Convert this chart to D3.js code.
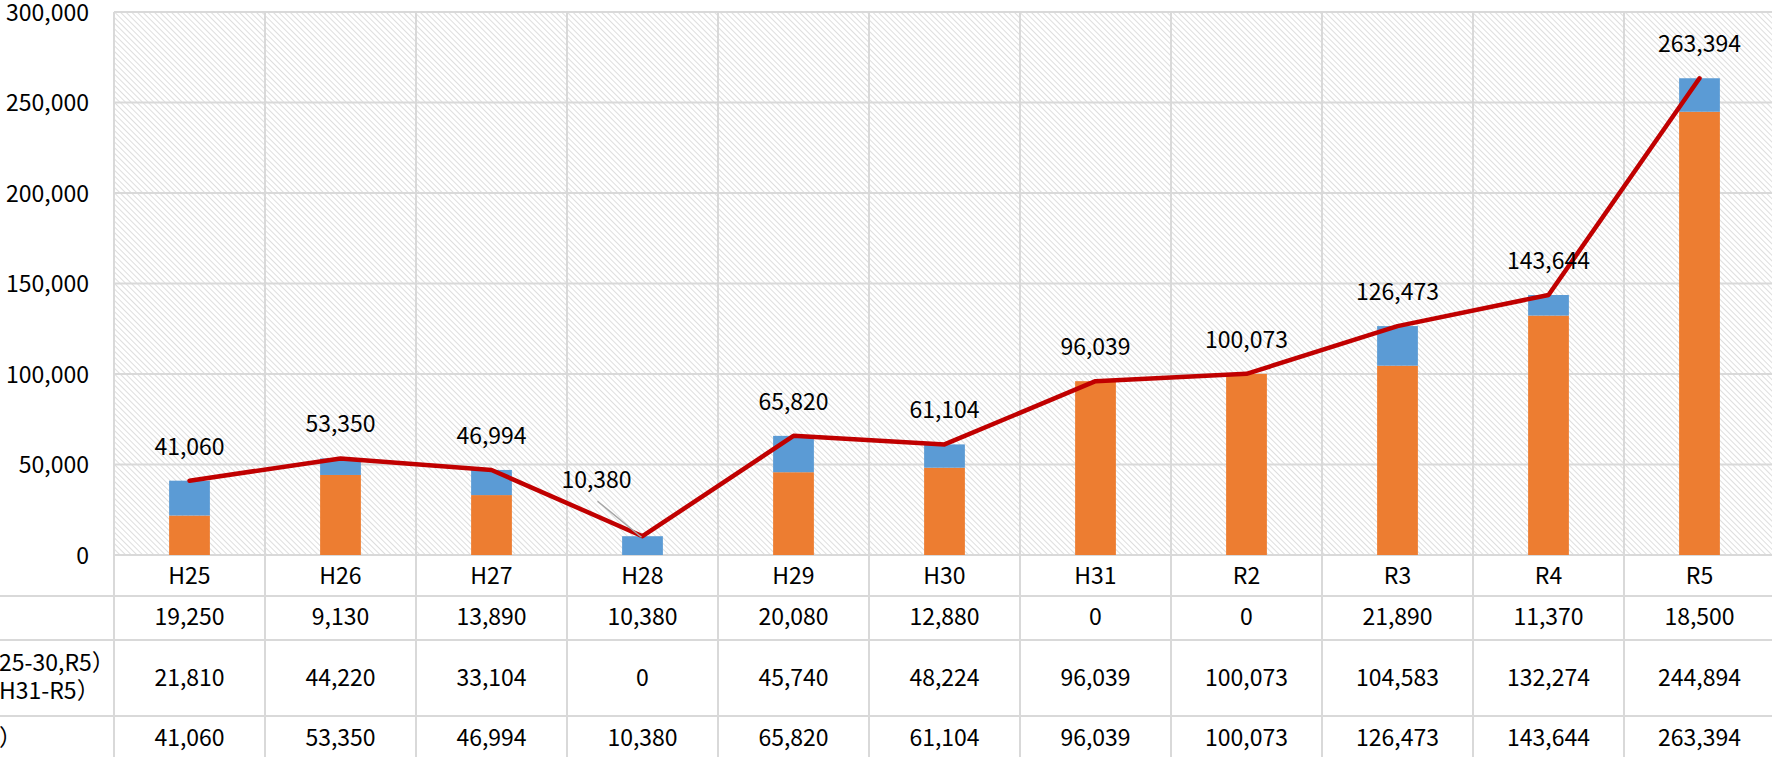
<!DOCTYPE html>
<html>
<head>
<meta charset="utf-8">
<script src="https://cdn.jsdelivr.net/npm/d3@7"></script>
<style>
  body { margin: 0; background: #fff; overflow: hidden; }
  text { font-family: "Noto Sans CJK JP", "Noto Sans", sans-serif; fill: #000; }
</style>
</head>
<body>
<script>
// chart values
const categories = ["H25", "H26", "H27", "H28", "H29", "H30", "H31", "R2", "R3", "R4", "R5"];
const blueValues = [19250, 9130, 13890, 10380, 20080, 12880, 0, 0, 21890, 11370, 18500];
const orangeValues = [21810, 44220, 33104, 0, 45740, 48224, 96039, 100073, 104583, 132274, 244894];
const totalValues = [41060, 53350, 46994, 10380, 65820, 61104, 96039, 100073, 126473, 143644, 263394];
const yTicks = [0, 50000, 100000, 150000, 200000, 250000, 300000];
// visible (clipped) row labels of the data table
const rowLabels = [[""], ["25-30,R5）", "H31-R5）"], ["）"]];

const width = 1772, height = 757;
const plotLeft = 114, plotRight = 1775, plotTop = 12, base = 555;
const rowLines = [555, 596, 640, 716, 800];
const fontSize = 23;

const svg = d3.select("body").append("svg")
    .attr("width", width)
    .attr("height", height);

// hatch pattern of the plot area
const defs = svg.append("defs");
const pat = defs.append("pattern")
    .attr("id", "hatch")
    .attr("patternUnits", "userSpaceOnUse")
    .attr("width", 4)
    .attr("height", 4)
    .attr("patternTransform", "rotate(-45)");
pat.append("rect").attr("width", 4).attr("height", 4).attr("fill", "#fff");
pat.append("line")
    .attr("x1", 0).attr("y1", 0).attr("x2", 0).attr("y2", 4)
    .attr("stroke", "#d6d6d6")
    .attr("stroke-width", 1.6);

const x = d3.scaleBand()
    .domain(categories)
    .range([plotLeft, plotRight])
    .paddingInner(0)
    .paddingOuter(0);

const y = d3.scaleLinear()
    .domain([0, 300000])
    .range([base, plotTop]);

svg.append("rect")
    .attr("x", plotLeft)
    .attr("y", plotTop)
    .attr("width", plotRight - plotLeft)
    .attr("height", base - plotTop)
    .attr("fill", "url(#hatch)");

// horizontal gridlines
svg.append("g")
    .selectAll("line")
    .data(yTicks)
    .join("line")
    .attr("x1", plotLeft)
    .attr("x2", plotRight)
    .attr("y1", d => y(d))
    .attr("y2", d => y(d))
    .attr("stroke", "#d9d9d9")
    .attr("stroke-width", 2);

// vertical gridlines through the plot and the table
const bounds = categories.map(c => x(c)).concat([plotRight]);
svg.append("g")
    .selectAll("line")
    .data(bounds)
    .join("line")
    .attr("x1", d => d)
    .attr("x2", d => d)
    .attr("y1", plotTop)
    .attr("y2", height)
    .attr("stroke", "#d9d9d9")
    .attr("stroke-width", 2);

// table row lines
svg.append("g")
    .selectAll("line")
    .data(rowLines.slice(1))
    .join("line")
    .attr("x1", 0)
    .attr("x2", plotRight)
    .attr("y1", d => d)
    .attr("y2", d => d)
    .attr("stroke", "#d9d9d9")
    .attr("stroke-width", 2);

// y axis labels
const yAxis = d3.axisLeft(y)
    .tickValues(yTicks)
    .tickFormat(d3.format(","))
    .tickSize(0)
    .tickPadding(0);
const yg = svg.append("g")
    .attr("transform", "translate(89,0)")
    .call(yAxis);
yg.select(".domain").remove();
yg.selectAll("text")
    .attr("font-size", fontSize)
    .attr("font-family", "\"Noto Sans CJK JP\", sans-serif")
    .attr("fill", "#000")
    .attr("dy", "0.36em");

// stacked bars
const barW = x.bandwidth() * 0.27;
const bars = svg.append("g");
bars.selectAll("rect.orange")
    .data(categories)
    .join("rect")
    .attr("class", "orange")
    .attr("x", d => x(d) + (x.bandwidth() - barW) / 2)
    .attr("width", barW)
    .attr("y", (d, i) => y(orangeValues[i]))
    .attr("height", (d, i) => base - y(orangeValues[i]))
    .attr("fill", "#ED7D31");
bars.selectAll("rect.blue")
    .data(categories)
    .join("rect")
    .attr("class", "blue")
    .attr("x", d => x(d) + (x.bandwidth() - barW) / 2)
    .attr("width", barW)
    .attr("y", (d, i) => y(orangeValues[i] + blueValues[i]))
    .attr("height", (d, i) => y(orangeValues[i]) - y(orangeValues[i] + blueValues[i]))
    .attr("fill", "#5B9BD5");

// total line
const cx = d => x(d) + x.bandwidth() / 2;
const line = d3.line()
    .x((d, i) => cx(categories[i]))
    .y(d => y(d));
svg.append("path")
    .datum(totalValues)
    .attr("d", line)
    .attr("fill", "none")
    .attr("stroke", "#C00000")
    .attr("stroke-width", 4.5)
    .attr("stroke-linejoin", "round")
    .attr("stroke-linecap", "round");

// total labels, H28 is pulled off with a leader line
const fmt = d3.format(",");
const labelG = svg.append("g");
totalValues.forEach((v, i) => {
    const px = cx(categories[i]), py = y(v);
    let lx = px, ly = py - 26;
    if (categories[i] === "H28") {
        lx = px - 46;
        ly = py - 48;
        labelG.append("line")
            .attr("x1", lx + 1).attr("y1", ly + 13)
            .attr("x2", px - 1).attr("y2", py + 1)
            .attr("stroke", "#a6a6a6")
            .attr("stroke-width", 1.5);
    }
    labelG.append("text")
        .attr("x", lx)
        .attr("y", ly)
        .attr("text-anchor", "middle")
        .attr("font-size", fontSize)
        .text(fmt(v));
});

// data table
const table = svg.append("g");
const rowData = [blueValues, orangeValues, totalValues];
const rowBase = [625, 686, 746];
table.selectAll("text.cat")
    .data(categories)
    .join("text")
    .attr("class", "cat")
    .attr("x", d => cx(d))
    .attr("y", 584)
    .attr("text-anchor", "middle")
    .attr("font-size", fontSize)
    .text(d => d);
rowData.forEach((vals, r) => {
    table.append("g")
        .selectAll("text")
        .data(vals)
        .join("text")
        .attr("x", (d, i) => cx(categories[i]))
        .attr("y", rowBase[r])
        .attr("text-anchor", "middle")
        .attr("font-size", fontSize)
        .text(d => fmt(d));
});
const labelBase = [[625], [671, 699], [746]];
rowLabels.forEach((lines, r) => {
    lines.forEach((t, k) => {
        table.append("text")
            .attr("x", -1)
            .attr("y", labelBase[r][k])
            .attr("font-size", fontSize)
            .text(t);
    });
});
</script>
</body>
</html>
